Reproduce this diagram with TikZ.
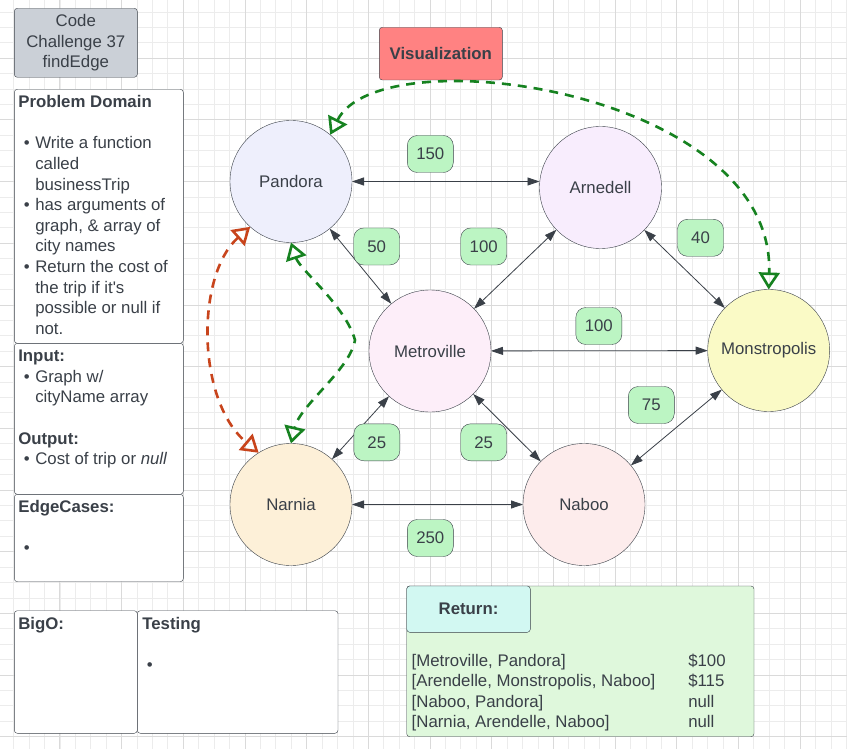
\documentclass[tikz,border=0pt]{standalone}
\usepackage{fontspec}
\setmainfont{Liberation Sans}
\usetikzlibrary{arrows.meta}
\definecolor{ink}{RGB}{58,64,72}
\definecolor{gridminor}{RGB}{236,236,236}
\definecolor{gridmajor}{RGB}{218,218,218}
\definecolor{codegray}{RGB}{203,208,215}
\definecolor{visred}{RGB}{255,130,130}
\definecolor{costgreen}{RGB}{188,245,195}
\definecolor{retgreen}{RGB}{223,248,220}
\definecolor{retcyan}{RGB}{210,248,242}
\definecolor{cuegreen}{RGB}{22,130,32}
\definecolor{cuered}{RGB}{200,68,28}
\definecolor{pandorafill}{RGB}{238,239,252}
\definecolor{arnedellfill}{RGB}{248,237,253}
\definecolor{metrofill}{RGB}{253,238,249}
\definecolor{monstrofill}{RGB}{250,250,198}
\definecolor{naboofill}{RGB}{253,236,236}
\definecolor{narniafill}{RGB}{253,240,216}
\newcommand{\bul}{\makebox[17pt][l]{\hspace{5.5pt}\textbullet}}
\newcommand{\ind}{\hspace*{17pt}}

\begin{document}
\begin{tikzpicture}[x=1pt,y=-1pt,
  every node/.style={font=\fontsize{16.8}{20.6}\selectfont, text=ink, inner sep=0pt, outer sep=0pt},
  city/.style={draw=ink, circle, minimum size=122pt},
  cost/.style={draw=ink, fill=costgreen, rounded corners=10pt, minimum width=46pt, minimum height=37pt},
  panel/.style={draw=ink, fill=white, rounded corners=3pt},
  note/.style={anchor=north west, align=left},
  edge/.style={draw=ink, line width=0.8pt, <->, >={Triangle[length=12pt,width=8pt]}},
  cue/.style={line width=2.6pt, dash pattern=on 9pt off 7pt, <->, >={Triangle[open,length=17pt,width=21pt]}}]
%================================================================
%	Paper
\useasboundingbox (0,0) rectangle (847,749);
\fill[white] (0,0) rectangle (847,749);
\foreach \i in {0,...,55} {\draw[gridminor, line width=0.9pt] ({13.74+15.42*\i},0) -- ++(0,749);}
\foreach \i in {0,...,48} {\draw[gridminor, line width=0.9pt] (0,{12+15.42*\i}) -- ++(847,0);}
\foreach \i in {1,...,13} {\draw[gridmajor, line width=1pt] ({-1.7+61.68*\i},0) -- ++(0,749);}
\foreach \i in {1,...,12} {\draw[gridmajor, line width=1pt] (0,{-3.4+61.68*\i}) -- ++(847,0);}
%================================================================
%	Notes
\node[panel, fill=codegray, minimum width=123pt, minimum height=69pt, align=center] (codebox) at (75.8,42.8) {Code\\Challenge 37\\findEdge};
%----------------------------------------------------------------
\node[panel, minimum width=169pt, minimum height=254pt] (pdbox) at (98.8,216.3) {};
\node[note] (pdtext) at ([shift={(4,4)}]pdbox.north west) {\strut\textbf{Problem Domain}\\[20.6pt]
\bul Write a function\\ \ind called\\ \ind businessTrip\\
\bul has arguments of\\ \ind graph, \& array of\\ \ind city names\\
\bul Return the cost of\\ \ind the trip if it\textquotesingle s\\ \ind possible or null if\\ \ind not.};
%----------------------------------------------------------------
\node[panel, minimum width=169pt, minimum height=151pt] (inbox) at (98.8,418.8) {};
\node[note] (intext) at ([shift={(4,4)}]inbox.north west) {\strut\textbf{Input:}\\
\bul Graph w/\\ \ind cityName array\\[20.6pt]
\textbf{Output:}\\
\bul Cost of trip or \textit{null}};
%----------------------------------------------------------------
\node[panel, minimum width=169pt, minimum height=87.4pt] (edgebox) at (98.8,538) {};
\node[note] (edgetext) at ([shift={(4,4)}]edgebox.north west) {\strut\textbf{EdgeCases:}\\[20.6pt] \bul};
%----------------------------------------------------------------
\node[panel, minimum width=123pt, minimum height=122.6pt] (bigobox) at (75.8,672) {};
\node[note] (bigotext) at ([shift={(4,4)}]bigobox.north west) {\strut\textbf{BigO:}};
\node[panel, minimum width=200.7pt, minimum height=122.6pt] (testbox) at (237.65,672) {};
\node[note] (testtext) at ([shift={(5,4)}]testbox.north west) {\strut\textbf{Testing}\\[20.6pt] \makebox[17pt][l]{\hspace{4.5pt}\textbullet}};
%----------------------------------------------------------------
\node[panel, fill=visred, minimum width=123pt, minimum height=52.7pt] (visbox) at (440.8,53.65) {\textbf{Visualization}};
%----------------------------------------------------------------
\node[panel, fill=retgreen, minimum width=347.3pt, minimum height=150.7pt] (retbox) at (580.35,661.35) {};
\node[panel, fill=retcyan, minimum width=123.6pt, minimum height=46.3pt] (rethead) at (468.5,609.15) {\textbf{Return:}};
\node[note] (retcalls) at (411.7,651.6) {\strut[Metroville, Pandora]\\{}[Arendelle, Monstropolis, Naboo]\\{}[Naboo, Pandora]\\{}[Narnia, Arendelle, Naboo]};
\node[note] (retcosts) at (688.3,651.6) {\strut\$100\\\$115\\null\\null};
%================================================================
%	Cities
\node[city, fill=pandorafill] (pandora) at (291,181.5) {Pandora};
\node[city, fill=arnedellfill] (arnedell) at (600.5,187.5) {Arnedell};
\node[city, fill=metrofill] (metroville) at (430,351) {Metroville};
\node[city, fill=monstrofill] (monstropolis) at (768.7,350.5) {Monstropolis};
\node[city, fill=naboofill] (naboo) at (584,504.5) {Naboo};
\node[city, fill=narniafill] (narnia) at (291,504.5) {Narnia};
%================================================================
%	Roads
\draw[edge] (pandora) -- (pandora -| arnedell.west);
\draw[edge] (pandora) -- (metroville);
\draw[edge] (metroville) -- (arnedell);
\draw[edge] (arnedell) -- (monstropolis);
\draw[edge] (metroville) -- (monstropolis);
\draw[edge] (metroville) -- (naboo);
\draw[edge] (metroville) -- (narnia);
\draw[edge] (monstropolis) -- (naboo);
\draw[edge] (narnia) -- (naboo);
%----------------------------------------------------------------
\node[cost] (c150) at (430.3,154) {150};
\node[cost] (c50) at (376.7,246.5) {50};
\node[cost] (c100a) at (483.7,246.5) {100};
\node[cost] (c40) at (700.5,237.8) {40};
\node[cost] (c100b) at (598.8,326) {100};
\node[cost] (c75) at (651.3,405) {75};
\node[cost] (c25a) at (376.8,442.3) {25};
\node[cost] (c25b) at (483.7,442.3) {25};
\node[cost] (c250) at (430.3,538) {250};
%================================================================
%	Trips
\draw[cue, draw=cuegreen] (pandora.50) .. controls (380,35) and (775,90) .. (monstropolis.north);
\draw[cue, draw=cuered] (pandora.228) .. controls (196,275) and (196,400) .. (narnia.122);
\draw[cue, draw=cuegreen] (pandora.south) .. controls (300,270) and (345,305) .. (355,340) .. controls (350,370) and (300,405) .. (narnia.north);
%================================================================
\end{tikzpicture}
\end{document}
